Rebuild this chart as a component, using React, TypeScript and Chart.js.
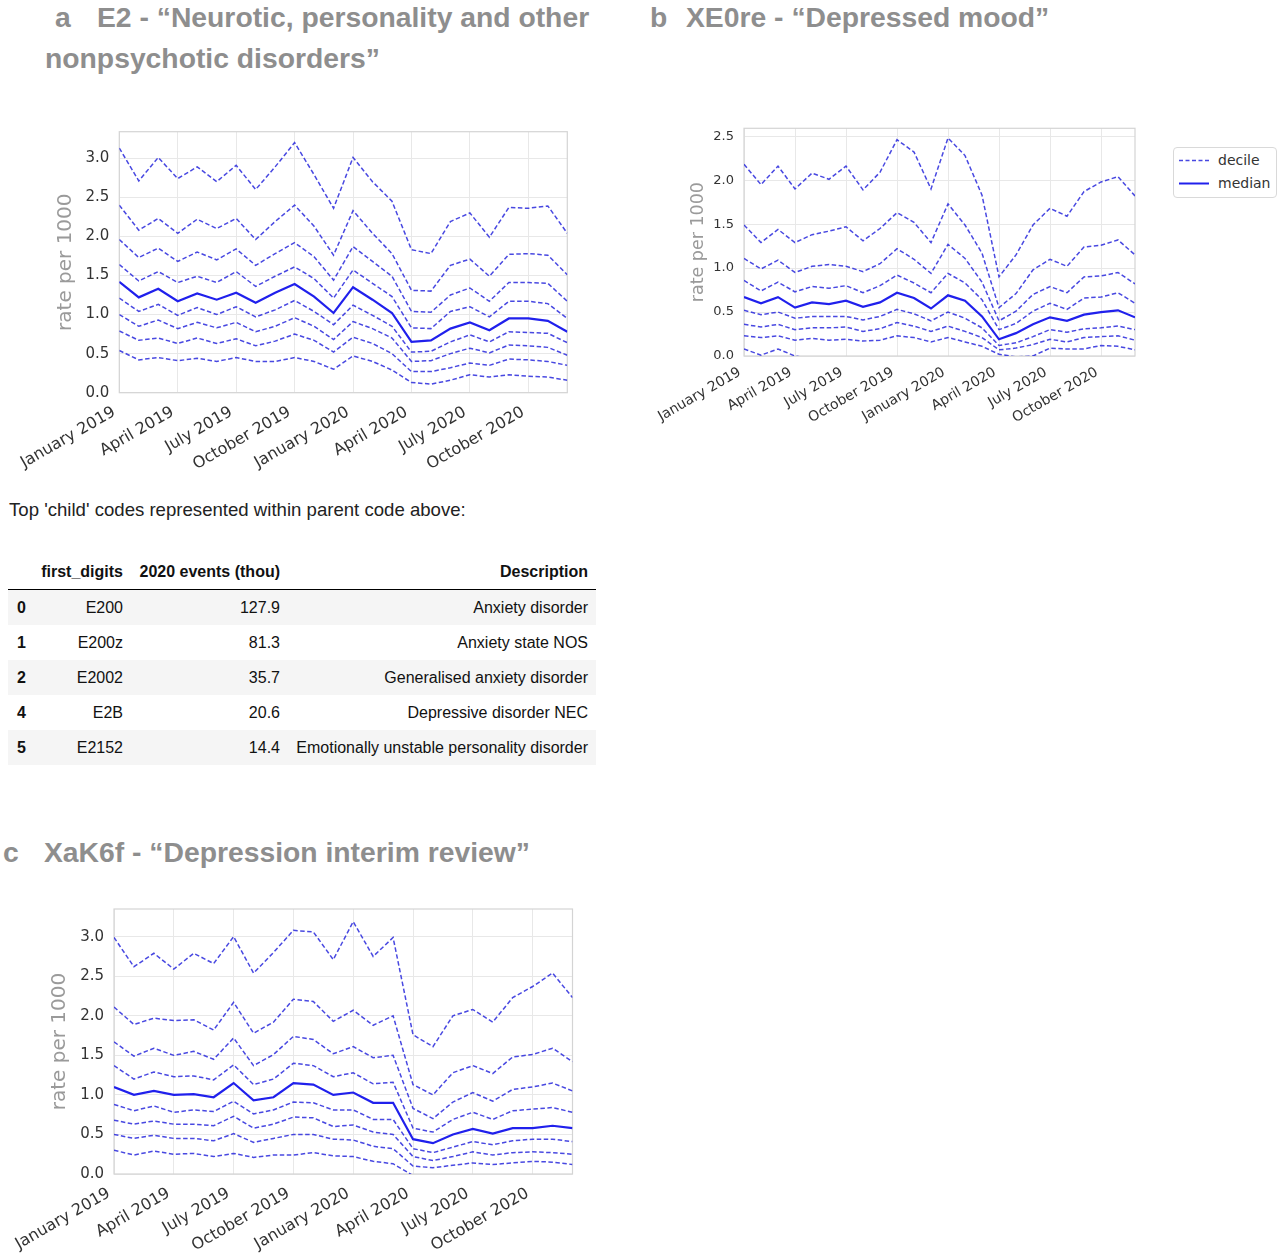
import React, { useEffect, useRef } from "react";
import { Chart, registerables } from "chart.js";

Chart.register(...registerables);

// ---------- data ----------
const MONTHS = [
  "2019-01", "2019-02", "2019-03", "2019-04", "2019-05", "2019-06",
  "2019-07", "2019-08", "2019-09", "2019-10", "2019-11", "2019-12",
  "2020-01", "2020-02", "2020-03", "2020-04", "2020-05", "2020-06",
  "2020-07", "2020-08", "2020-09", "2020-10", "2020-11", "2020-12",
];
const TICK_POSITIONS = [0, 3, 6, 9, 12, 15, 18, 21];
const TICK_LABELS = [
  "January 2019", "April 2019", "July 2019", "October 2019",
  "January 2020", "April 2020", "July 2020", "October 2020",
];
const Y_TICKS_A = [0, 0.5, 1, 1.5, 2, 2.5, 3];
const Y_TICKS_B = [0, 0.5, 1, 1.5, 2, 2.5];
const Y_TICKS_C = [0, 0.5, 1, 1.5, 2, 2.5, 3];

// Panel a: E2
const A_P10 = [0.54, 0.42, 0.45, 0.41, 0.44, 0.40, 0.45, 0.40, 0.40, 0.45, 0.40, 0.30, 0.47, 0.40, 0.29, 0.13, 0.11, 0.16, 0.23, 0.20, 0.23, 0.21, 0.20, 0.16];
const A_P20 = [0.79, 0.67, 0.70, 0.63, 0.70, 0.63, 0.69, 0.60, 0.66, 0.75, 0.67, 0.52, 0.71, 0.63, 0.50, 0.27, 0.27, 0.32, 0.38, 0.35, 0.43, 0.42, 0.40, 0.35];
const A_P30 = [1.00, 0.85, 0.93, 0.82, 0.90, 0.83, 0.90, 0.78, 0.85, 0.96, 0.85, 0.68, 0.91, 0.82, 0.70, 0.40, 0.41, 0.50, 0.57, 0.51, 0.61, 0.60, 0.58, 0.48];
const A_P40 = [1.21, 1.04, 1.13, 0.99, 1.09, 1.00, 1.10, 0.97, 1.06, 1.18, 1.04, 0.87, 1.12, 0.99, 0.85, 0.52, 0.53, 0.65, 0.74, 0.65, 0.78, 0.77, 0.76, 0.64];
const A_MED = [1.42, 1.22, 1.33, 1.17, 1.27, 1.19, 1.28, 1.15, 1.28, 1.39, 1.23, 1.02, 1.35, 1.19, 1.02, 0.65, 0.67, 0.82, 0.90, 0.80, 0.95, 0.95, 0.92, 0.78];
const A_P60 = [1.64, 1.43, 1.55, 1.41, 1.49, 1.41, 1.55, 1.36, 1.49, 1.61, 1.46, 1.21, 1.57, 1.40, 1.23, 0.83, 0.82, 1.04, 1.10, 0.97, 1.17, 1.17, 1.14, 0.95];
const A_P70 = [1.96, 1.73, 1.85, 1.68, 1.80, 1.70, 1.84, 1.63, 1.78, 1.92, 1.74, 1.44, 1.87, 1.68, 1.49, 1.04, 1.03, 1.25, 1.34, 1.17, 1.41, 1.41, 1.40, 1.17];
const A_P80 = [2.40, 2.08, 2.23, 2.04, 2.22, 2.10, 2.23, 1.96, 2.19, 2.40, 2.13, 1.76, 2.33, 2.04, 1.78, 1.31, 1.30, 1.63, 1.71, 1.49, 1.77, 1.78, 1.76, 1.51];
const A_P90 = [3.13, 2.71, 3.01, 2.74, 2.89, 2.70, 2.91, 2.60, 2.89, 3.20, 2.79, 2.36, 3.01, 2.70, 2.45, 1.83, 1.78, 2.19, 2.30, 1.99, 2.37, 2.36, 2.39, 2.04];

// Panel b: XE0re
const B_P10 = [0.08, 0.01, 0.08, 0.00, -0.03, -0.03, -0.03, -0.04, -0.03, -0.02, -0.03, -0.04, -0.03, -0.04, -0.06, -0.10, -0.09, -0.07, -0.05, -0.05, -0.05, -0.04, -0.04, -0.05];
const B_P20 = [0.23, 0.21, 0.23, 0.18, 0.20, 0.18, 0.19, 0.17, 0.18, 0.23, 0.21, 0.16, 0.21, 0.16, 0.11, 0.02, -0.01, 0.00, 0.09, 0.08, 0.08, 0.12, 0.11, 0.07];
const B_P30 = [0.36, 0.33, 0.36, 0.30, 0.32, 0.32, 0.33, 0.28, 0.31, 0.38, 0.34, 0.28, 0.34, 0.28, 0.21, 0.07, 0.09, 0.13, 0.19, 0.16, 0.21, 0.22, 0.23, 0.18];
const B_P40 = [0.52, 0.47, 0.50, 0.43, 0.45, 0.45, 0.45, 0.41, 0.45, 0.53, 0.48, 0.40, 0.50, 0.43, 0.32, 0.12, 0.15, 0.22, 0.30, 0.27, 0.31, 0.32, 0.34, 0.30];
const B_MED = [0.67, 0.60, 0.67, 0.55, 0.61, 0.59, 0.63, 0.56, 0.61, 0.72, 0.66, 0.54, 0.69, 0.63, 0.45, 0.19, 0.26, 0.36, 0.44, 0.40, 0.47, 0.50, 0.52, 0.44];
const B_P60 = [0.86, 0.74, 0.84, 0.73, 0.79, 0.77, 0.80, 0.72, 0.80, 0.92, 0.83, 0.72, 0.94, 0.83, 0.64, 0.30, 0.37, 0.51, 0.60, 0.53, 0.66, 0.67, 0.72, 0.60];
const B_P70 = [1.11, 0.99, 1.09, 0.95, 1.02, 1.04, 1.02, 0.96, 1.05, 1.22, 1.10, 0.94, 1.27, 1.11, 0.84, 0.40, 0.51, 0.70, 0.79, 0.72, 0.90, 0.91, 0.95, 0.82];
const B_P80 = [1.49, 1.29, 1.44, 1.29, 1.38, 1.42, 1.47, 1.31, 1.45, 1.63, 1.52, 1.29, 1.73, 1.49, 1.17, 0.55, 0.71, 0.98, 1.10, 1.02, 1.24, 1.26, 1.32, 1.15];
const B_P90 = [2.18, 1.95, 2.16, 1.90, 2.08, 2.01, 2.16, 1.89, 2.09, 2.46, 2.32, 1.90, 2.48, 2.28, 1.83, 0.90, 1.15, 1.49, 1.68, 1.59, 1.87, 1.98, 2.04, 1.82];

// Panel c: XaK6f
const C_P10 = [0.30, 0.24, 0.29, 0.25, 0.26, 0.22, 0.26, 0.21, 0.24, 0.24, 0.27, 0.23, 0.22, 0.16, 0.13, -0.02, -0.05, -0.04, -0.02, -0.03, -0.02, -0.01, -0.02, -0.02];
const C_P20 = [0.50, 0.45, 0.49, 0.45, 0.45, 0.42, 0.51, 0.40, 0.45, 0.50, 0.50, 0.44, 0.43, 0.35, 0.32, 0.10, 0.08, 0.11, 0.14, 0.12, 0.14, 0.16, 0.15, 0.12];
const C_P30 = [0.68, 0.63, 0.67, 0.63, 0.63, 0.61, 0.73, 0.58, 0.63, 0.72, 0.71, 0.60, 0.62, 0.53, 0.50, 0.22, 0.17, 0.22, 0.28, 0.24, 0.27, 0.28, 0.27, 0.25];
const C_P40 = [0.88, 0.80, 0.86, 0.78, 0.81, 0.79, 0.92, 0.76, 0.81, 0.91, 0.90, 0.81, 0.81, 0.69, 0.69, 0.32, 0.27, 0.34, 0.41, 0.37, 0.42, 0.44, 0.44, 0.41];
const C_MED = [1.10, 1.00, 1.05, 1.00, 1.01, 0.97, 1.15, 0.93, 0.97, 1.15, 1.13, 1.00, 1.03, 0.90, 0.90, 0.44, 0.39, 0.50, 0.57, 0.51, 0.58, 0.58, 0.61, 0.58];
const C_P60 = [1.37, 1.20, 1.29, 1.23, 1.24, 1.19, 1.38, 1.13, 1.20, 1.40, 1.37, 1.23, 1.28, 1.14, 1.16, 0.58, 0.53, 0.69, 0.78, 0.69, 0.80, 0.82, 0.84, 0.78];
const C_P70 = [1.67, 1.49, 1.59, 1.50, 1.55, 1.45, 1.72, 1.37, 1.51, 1.74, 1.70, 1.52, 1.61, 1.47, 1.50, 0.83, 0.70, 0.91, 1.03, 0.92, 1.07, 1.10, 1.15, 1.05];
const C_P80 = [2.11, 1.89, 1.97, 1.94, 1.95, 1.82, 2.17, 1.78, 1.92, 2.21, 2.18, 1.93, 2.07, 1.88, 2.00, 1.13, 1.00, 1.28, 1.37, 1.27, 1.48, 1.51, 1.59, 1.42];
const C_P90 = [2.99, 2.62, 2.79, 2.59, 2.79, 2.66, 3.00, 2.54, 2.80, 3.08, 3.06, 2.71, 3.19, 2.75, 2.99, 1.76, 1.61, 2.00, 2.08, 1.92, 2.23, 2.37, 2.54, 2.23];

// Table
const TABLE_INDEX = ["0", "1", "2", "4", "5"];
const TABLE_CODES = ["E200", "E200z", "E2002", "E2B", "E2152"];
const TABLE_EVENTS = ["127.9", "81.3", "35.7", "20.6", "14.4"];
const TABLE_DESC = [
  "Anxiety disorder",
  "Anxiety state NOS",
  "Generalised anxiety disorder",
  "Depressive disorder NEC",
  "Emotionally unstable personality disorder",
];

// ---------- styling ----------
const DECILE_COLOR = "rgba(40,40,220,0.85)";
const MEDIAN_COLOR = "rgba(25,25,235,0.97)";
const GRID_COLOR = "#e8e8e8";
const FRAME_COLOR = "#d4d4d4";
const TICK_COLOR = "#333333";
const AXIS_TITLE_COLOR = "#9a9a9a";
const TITLE_COLOR = "#8e8e8e";

const framePlugin = {
  id: "frame",
  beforeDatasetsDraw(chart: any) {
    const { ctx, chartArea } = chart;
    ctx.save();
    ctx.strokeStyle = FRAME_COLOR;
    ctx.lineWidth = 1.2;
    ctx.strokeRect(chartArea.left, chartArea.top, chartArea.right - chartArea.left, chartArea.bottom - chartArea.top);
    ctx.restore();
  },
};

type Props = {
  left: number;
  top: number;
  width: number;
  height: number;
  plotLeft: number;
  plotTop: number;
  plotRight: number;
  plotBottom: number;
  titleCenterX: number;
  yMax: number;
  yTicks: number[];
  series: number[][]; // p10..p90, median at index 4
  yTickFont: number;
  xTickFont: number;
  xLabelOffset: number;
  xPadding: number;
  titleFont: number;
};

function DecileChart(p: Props) {
  const ref = useRef<HTMLCanvasElement | null>(null);
  useEffect(() => {
    if (!ref.current) return;
    const names = ["10th", "20th", "30th", "40th", "median", "60th", "70th", "80th", "90th"];
    const datasets = p.series.map((vals, k) => {
      const isMed = k === 4;
      return {
        label: names[k],
        data: vals.map((v, i) => ({ x: i, y: v })),
        borderColor: isMed ? MEDIAN_COLOR : DECILE_COLOR,
        borderWidth: isMed ? 2.2 : 1.5,
        borderDash: isMed ? [] : [4.5, 2.5],
        pointRadius: 0,
        tension: 0,
        fill: false,
      };
    });
    const titleLine = p.titleFont * 1.2;
    const chart = new Chart(ref.current, {
      type: "line",
      data: { labels: MONTHS, datasets },
      options: {
        animation: false,
        responsive: false,
        maintainAspectRatio: false,
        events: [],
        layout: {
          padding: {
            top: p.plotTop - p.top,
            right: p.left + p.width - p.plotRight,
            left: 0,
            bottom: 0,
          },
        },
        plugins: { legend: { display: false }, tooltip: { enabled: false } },
        scales: {
          x: {
            type: "linear",
            min: 0,
            max: MONTHS.length - 1,
            afterBuildTicks: (s: any) => {
              s.ticks = TICK_POSITIONS.map((v) => ({ value: v }));
            },
            afterFit: (s: any) => {
              s.height = p.top + p.height - p.plotBottom;
            },
            grid: { color: GRID_COLOR, drawTicks: false, lineWidth: 1 },
            border: { display: false },
            ticks: {
              color: TICK_COLOR,
              font: { family: "DejaVu Sans", size: p.xTickFont },
              maxRotation: 30,
              minRotation: 30,
              autoSkip: false,
              padding: p.xPadding,
              labelOffset: p.xLabelOffset,
              callback: (v: any) => {
                const idx = TICK_POSITIONS.indexOf(Number(v));
                return idx >= 0 ? TICK_LABELS[idx] : "";
              },
            },
          },
          y: {
            type: "linear",
            min: 0,
            max: p.yMax,
            afterBuildTicks: (s: any) => {
              s.ticks = p.yTicks.map((v) => ({ value: v }));
            },
            afterFit: (s: any) => {
              s.width = p.plotLeft - p.left;
            },
            grid: { color: GRID_COLOR, drawTicks: false, lineWidth: 1 },
            border: { display: false },
            ticks: {
              color: TICK_COLOR,
              font: { family: "DejaVu Sans", size: p.yTickFont },
              padding: 10,
              callback: (v: any) => Number(v).toFixed(1),
            },
            title: {
              display: true,
              text: "rate per 1000",
              color: AXIS_TITLE_COLOR,
              font: { family: "DejaVu Sans", size: p.titleFont },
              padding: { top: p.titleCenterX - p.left - titleLine / 2, bottom: 0 },
            },
          },
        },
      },
      plugins: [framePlugin],
    });
    return () => chart.destroy();
  }, []);
  return (
    <canvas
      ref={ref}
      width={p.width}
      height={p.height}
      style={{ position: "absolute", left: p.left, top: p.top, width: p.width, height: p.height }}
    />
  );
}

const titleStyle: React.CSSProperties = {
  position: "absolute",
  fontFamily: "'Liberation Sans', Arial, sans-serif",
  fontWeight: "bold",
  fontSize: 28.3,
  lineHeight: "28px",
  color: TITLE_COLOR,
  whiteSpace: "nowrap",
};

const cellBase: React.CSSProperties = {
  padding: "0 8px 0 0",
  height: 35,
  verticalAlign: "middle",
  textAlign: "right",
  whiteSpace: "nowrap",
};

export default function App() {
  return (
    <div
      style={{
        position: "absolute",
        left: 0,
        top: 0,
        width: 1280,
        height: 1257,
        background: "#ffffff",
        overflow: "hidden",
      }}
    >
      {/* Titles */}
      <div style={{ ...titleStyle, left: 55, top: 3 }}>a</div>
      <div style={{ ...titleStyle, left: 97, top: 3 }}>E2 - “Neurotic, personality and other</div>
      <div style={{ ...titleStyle, left: 45, top: 44 }}>nonpsychotic disorders”</div>
      <div style={{ ...titleStyle, left: 650, top: 3 }}>b</div>
      <div style={{ ...titleStyle, left: 686, top: 3 }}>XE0re - “Depressed mood”</div>
      <div style={{ ...titleStyle, left: 3, top: 838 }}>c</div>
      <div style={{ ...titleStyle, left: 44, top: 838 }}>XaK6f - “Depression interim review”</div>

      <DecileChart
        left={0}
        top={110}
        width={600}
        height={370}
        plotLeft={119.3}
        plotTop={131.7}
        plotRight={567.3}
        plotBottom={392.7}
        titleCenterX={66}
        yMax={3.34}
        yTicks={Y_TICKS_A}
        series={[A_P10, A_P20, A_P30, A_P40, A_MED, A_P60, A_P70, A_P80, A_P90]}
        yTickFont={15}
        xTickFont={16}
        xLabelOffset={-5}
        xPadding={10}
        titleFont={20}
      />

      <DecileChart
        left={640}
        top={110}
        width={520}
        height={325}
        plotLeft={744}
        plotTop={128.3}
        plotRight={1135}
        plotBottom={356}
        titleCenterX={698}
        yMax={2.59}
        yTicks={Y_TICKS_B}
        series={[B_P10, B_P20, B_P30, B_P40, B_MED, B_P60, B_P70, B_P80, B_P90]}
        yTickFont={13}
        xTickFont={14}
        xLabelOffset={-4}
        xPadding={8}
        titleFont={17.5}
      />

      {/* Legend for panel b */}
      <div
        style={{
          position: "absolute",
          left: 1173,
          top: 147,
          width: 104,
          height: 51,
          boxSizing: "border-box",
          border: "1px solid #d9d9d9",
          borderRadius: 4,
          background: "#fff",
          fontFamily: "'DejaVu Sans', sans-serif",
          fontSize: 14,
          color: "#333",
        }}
      >
        <svg width={34} height={49} style={{ position: "absolute", left: 3, top: 0 }}>
          <line x1={2} y1={12.5} x2={32} y2={12.5} stroke={DECILE_COLOR} strokeWidth={1.5} strokeDasharray="4 2.5" />
          <line x1={2} y1={35.5} x2={32} y2={35.5} stroke={MEDIAN_COLOR} strokeWidth={2} />
        </svg>
        <div style={{ position: "absolute", left: 44, top: 3, lineHeight: "18px" }}>decile</div>
        <div style={{ position: "absolute", left: 44, top: 26, lineHeight: "18px" }}>median</div>
      </div>

      {/* Caption and table */}
      <div
        style={{
          position: "absolute",
          left: 9,
          top: 501,
          fontFamily: "'Liberation Sans', Arial, sans-serif",
          fontSize: 18.6,
          lineHeight: "18px",
          color: "#222",
          whiteSpace: "nowrap",
        }}
      >
        Top 'child' codes represented within parent code above:
      </div>

      <table
        style={{
          position: "absolute",
          left: 8,
          top: 555,
          width: 588,
          borderCollapse: "separate",
          borderSpacing: 0,
          tableLayout: "fixed",
          fontFamily: "'Liberation Sans', Arial, sans-serif",
          fontSize: 16,
          color: "#111",
        }}
      >
        <colgroup>
          <col style={{ width: 33 }} />
          <col style={{ width: 90 }} />
          <col style={{ width: 157 }} />
          <col style={{ width: 308 }} />
        </colgroup>
        <thead>
          <tr>
            <th style={{ ...cellBase, height: 34, borderBottom: "1px solid #000" }}></th>
            <th style={{ ...cellBase, height: 34, borderBottom: "1px solid #000" }}>first_digits</th>
            <th style={{ ...cellBase, height: 34, borderBottom: "1px solid #000" }}>2020 events (thou)</th>
            <th style={{ ...cellBase, height: 34, borderBottom: "1px solid #000" }}>Description</th>
          </tr>
        </thead>
        <tbody>
          {TABLE_INDEX.map((idx, i) => {
            const bg = i % 2 === 0 ? "#f5f5f5" : "#ffffff";
            return (
              <tr key={idx} style={{ background: bg }}>
                <th style={{ ...cellBase, textAlign: "left", paddingLeft: 9, paddingRight: 0 }}>{idx}</th>
                <td style={cellBase}>{TABLE_CODES[i]}</td>
                <td style={cellBase}>{TABLE_EVENTS[i]}</td>
                <td style={cellBase}>{TABLE_DESC[i]}</td>
              </tr>
            );
          })}
        </tbody>
      </table>

      <DecileChart
        left={0}
        top={890}
        width={600}
        height={367}
        plotLeft={114}
        plotTop={908.3}
        plotRight={572.5}
        plotBottom={1174}
        titleCenterX={60}
        yMax={3.35}
        yTicks={Y_TICKS_C}
        series={[C_P10, C_P20, C_P30, C_P40, C_MED, C_P60, C_P70, C_P80, C_P90]}
        yTickFont={15}
        xTickFont={16}
        xLabelOffset={-5}
        xPadding={10}
        titleFont={20}
      />
    </div>
  );
}
